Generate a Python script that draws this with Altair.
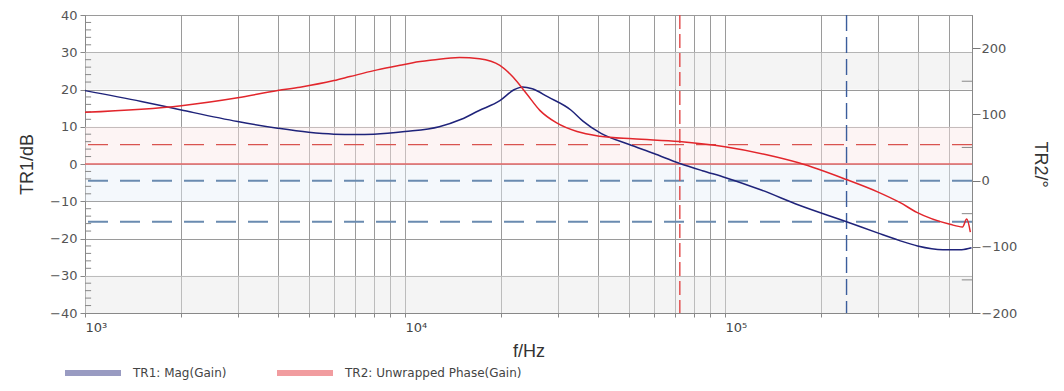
import altair as alt
import pandas as pd

# ---- data ----
freq_mag = [1000, 1500, 2000, 3000, 4000, 5000, 6000, 7000, 8000, 10000, 12800, 15000,
            17000, 19800, 22000, 23300, 25000, 28000, 33000, 36000, 41000, 50000, 60000,
            72000, 85000, 100000, 130000, 170000, 240000, 300000, 350000, 400000, 480000,
            550000, 590000]
mag_db = [19.7, 16.8, 14.5, 11.4, 9.6, 8.5, 8.0, 7.9, 8.0, 8.7, 10.0, 12.0,
          14.3, 17.0, 20.0, 20.7, 20.2, 18.0, 14.5, 11.5, 8.2, 5.3, 2.8,
          0.2, -1.8, -3.6, -7.0, -11.0, -15.5, -18.5, -20.5, -22.0, -23.0,
          -23.0, -22.5]

freq_phase = [1000, 2000, 3000, 4000, 4700, 6000, 6730, 8000, 9650, 10600, 12200, 14800,
              17100, 19800, 21800, 24000, 26400, 29800, 34500, 40700, 51500, 72000,
              100000, 135000, 171000, 240000, 300000, 352000, 398000, 505000, 553000,
              570000, 585000]
phase_deg = [103, 113, 125, 136, 141, 151, 157, 166, 174, 178, 182, 186,
             184, 174, 156, 131, 106, 87, 74, 67, 63, 59,
             51, 39, 26.5, 1.5, -17, -33, -48, -66, -70,
             -58, -78]

series_names = ["TR1: Mag(Gain)", "TR2: Unwrapped Phase(Gain)"]
series_colors = ["#1f237a", "#e2262c"]

grid_freqs = [1000, 2000, 3000, 4000, 5000, 6000, 7000, 8000, 9000,
              10000, 20000, 30000, 40000, 50000, 60000, 70000, 80000, 90000,
              100000, 200000, 300000, 400000, 500000]
left_ticks = [-40, -30, -20, -10, 0, 10, 20, 30, 40]
right_ticks = [-200, -100, 0, 100, 200]
left_minor = [v for v in range(-38, 40, 2) if v % 10 != 0]
right_minor = [-150, -50, 50, 150]

band_lo = [20, 0, -10, -40]
band_hi = [30, 10, 0, -30]
band_fill = ["#e6e6e6", "#fbe6e6", "#e6f0f8", "#e6e6e6"]

red_dash_db = [5.2]
red_solid_db = [0]
blue_dash_db = [-4.5, -15.5]
red_vline_f = [72300]
blue_vline_f = [240000]

f_min, f_max = 1000, 592000
db_min, db_max = -40, 40
deg_min, deg_max = -200, 250

# ---- tables ----
mag_df = pd.DataFrame({"f": freq_mag, "v": mag_db, "s": series_names[0]})
phase_df = pd.DataFrame({"f": freq_phase, "v": phase_deg, "s": series_names[1]})
band_df = pd.DataFrame({"v": band_lo, "hi": band_hi, "fill": band_fill})

xscale = alt.Scale(type="log", domain=[f_min, f_max], nice=False)
yl = alt.Scale(domain=[db_min, db_max], nice=False)
yr = alt.Scale(domain=[deg_min, deg_max], nice=False)
cscale = alt.Scale(domain=series_names, range=series_colors)

label_expr = ("datum.value == 1000 ? '10³' : datum.value == 10000 ? '10⁴' : "
              "datum.value == 100000 ? '10⁵' : ''")

x_axis = alt.Axis(values=grid_freqs, labelExpr=label_expr, title="f/Hz",
                  grid=True, gridColor="#9a9a9a", gridWidth=1,
                  tickSize=4, tickColor="#888", labelAlign="left",
                  labelPadding=4, labelOverlap=False, labelFlush=False,
                  labelFont="DejaVu Sans", labelFontSize=13, labelColor="#444",
                  titleFont="Liberation Sans", titleFontSize=18, titleFontWeight="normal",
                  titleColor="#333", titlePadding=8, domain=True, domainColor="#888")

left_axis = alt.Axis(values=left_ticks, title="TR1/dB", orient="left",
                     grid=True, gridColor="#9a9a9a", gridWidth=1,
                     labelOverlap=False, labelFlush=False,
                     tickSize=5, tickColor="#888", labelPadding=3,
                     labelFont="DejaVu Sans", labelFontSize=13, labelColor="#555",
                     titleFont="Liberation Sans", titleFontSize=18, titleFontWeight="normal",
                     titleColor="#333", titlePadding=13, domainColor="#888")

right_axis = alt.Axis(values=right_ticks, title="TR2/°", orient="right", grid=False,
                      tickSize=8, tickColor="#777", labelPadding=1,
                      labelOverlap=False, labelFlush=False,
                      labelFont="DejaVu Sans", labelFontSize=13, labelColor="#555",
                      titleFont="Liberation Sans", titleFontSize=18, titleFontWeight="normal",
                      titleColor="#333", titlePadding=14, titleAngle=90, domainColor="#888")

X = alt.X("f:Q", scale=xscale, axis=x_axis)
YL = alt.Y("v:Q", scale=yl, axis=left_axis)
YR = alt.Y("v:Q", scale=yr, axis=right_axis)

bands = alt.Chart(band_df).mark_rect(opacity=0.45).encode(
    y=YL, y2="hi:Q", color=alt.Color("fill:N", scale=None))

def hrule(vals, color, dash=None, width=1.4):
    kw = dict(color=color, strokeWidth=width)
    if dash:
        kw["strokeDash"] = dash
    return alt.Chart(pd.DataFrame({"v": vals})).mark_rule(**kw).encode(y=YL)

def vrule(vals, color, dash):
    return alt.Chart(pd.DataFrame({"f": vals})).mark_rule(
        color=color, strokeWidth=1.4, strokeDash=dash).encode(x=X)

minor_l = alt.Chart(pd.DataFrame({"v": left_minor, "f": f_min, "b": 1045})).mark_rule(
    color="#888", strokeWidth=1).encode(x=X, x2="b:Q", y=YL)

legend = alt.Legend(
    orient="none", legendX=-23, legendY=327, direction="horizontal", title=None,
    symbolType="stroke", symbolSize=3136, symbolStrokeWidth=6, symbolOpacity=1,
    labelFont="DejaVu Sans", labelFontSize=12, labelColor="#444", labelLimit=400,
    labelOffset=9, columnPadding=38, padding=0)

mag_line = alt.Chart(mag_df).mark_line(
    strokeWidth=1.5, interpolate="monotone", opacity=1).encode(
    x=X, y=YL, color=alt.Color("s:N", scale=cscale, legend=legend))

left_group = alt.layer(
    bands,
    hrule(red_dash_db, "#d9534f", [20, 12]),
    hrule(red_solid_db, "#e06666", None, 1.6),
    hrule(blue_dash_db, "#6a8bb0", [20, 12], 1.8),
    vrule(red_vline_f, "#e04848", [14, 5]),
    vrule(blue_vline_f, "#3a5d9c", [16, 6]),
    minor_l,
    mag_line,
)

minor_r = alt.Chart(pd.DataFrame({"v": right_minor, "f": 550000, "b": f_max})).mark_rule(
    color="#888", strokeWidth=1).encode(x=X, x2="b:Q", y=YR)

phase_line = alt.Chart(phase_df).mark_line(
    strokeWidth=1.5, interpolate="monotone", opacity=1).encode(
    x=X, y=YR, color=alt.Color("s:N", scale=cscale))

right_group = alt.layer(minor_r, phase_line)

chart = alt.layer(left_group, right_group).resolve_scale(y="independent").properties(
    width=887, height=298,
    autosize=alt.AutoSizeParams(type="none"),
    padding={"left": 77, "top": 7, "right": 84, "bottom": 70},
).configure_view(stroke="#888", strokeWidth=1)

chart.save("out.html", embed_options={"renderer": "svg", "actions": False})
